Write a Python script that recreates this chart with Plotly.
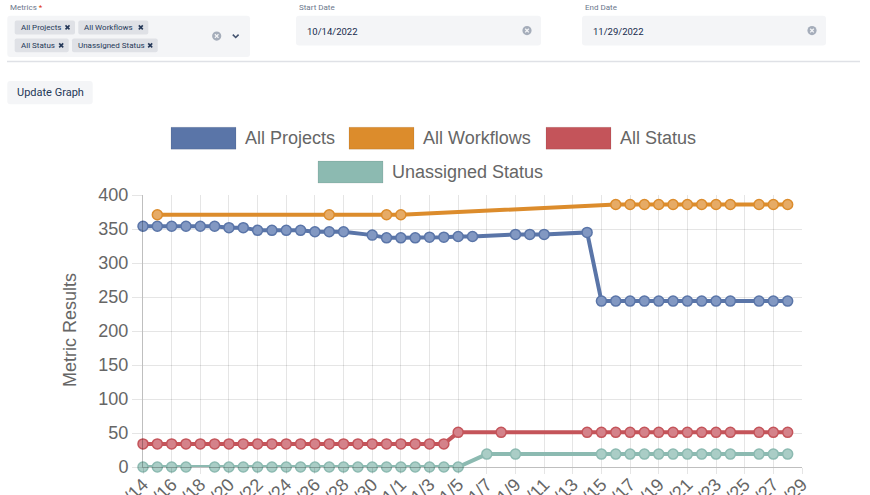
import plotly.graph_objects as go

# ---------------- data ----------------
series_names = ["All Projects", "All Workflows", "All Status", "Unassigned Status"]

projects_dates = ["2022-10-14", "2022-10-15", "2022-10-16", "2022-10-17", "2022-10-18",
                  "2022-10-19", "2022-10-20", "2022-10-21", "2022-10-22", "2022-10-23",
                  "2022-10-24", "2022-10-25", "2022-10-26", "2022-10-27", "2022-10-28",
                  "2022-10-30", "2022-10-31", "2022-11-01", "2022-11-02", "2022-11-03",
                  "2022-11-04", "2022-11-05", "2022-11-06",
                  "2022-11-09", "2022-11-10", "2022-11-11",
                  "2022-11-14", "2022-11-15", "2022-11-16", "2022-11-17", "2022-11-18",
                  "2022-11-19", "2022-11-20", "2022-11-21", "2022-11-22", "2022-11-23",
                  "2022-11-24", "2022-11-26", "2022-11-27", "2022-11-28"]
projects_values = [354, 354, 354, 354, 354, 354, 352, 352, 348, 348,
                   348, 348, 346, 346, 346,
                   341, 337, 337, 337, 338, 338, 339, 339,
                   342, 342, 342,
                   345, 244, 244, 244, 244, 244, 244, 244, 244, 244,
                   244, 244, 244, 244]

workflows_dates = ["2022-10-15", "2022-10-27", "2022-10-31", "2022-11-01",
                   "2022-11-16", "2022-11-17", "2022-11-18", "2022-11-19", "2022-11-20",
                   "2022-11-21", "2022-11-22", "2022-11-23", "2022-11-24",
                   "2022-11-26", "2022-11-27", "2022-11-28"]
workflows_values = [371, 371, 371, 371,
                    386, 386, 386, 386, 386, 386, 386, 386, 386,
                    386, 386, 386]

status_dates = ["2022-10-14", "2022-10-15", "2022-10-16", "2022-10-17", "2022-10-18",
                "2022-10-19", "2022-10-20", "2022-10-21", "2022-10-22", "2022-10-23",
                "2022-10-24", "2022-10-25", "2022-10-26", "2022-10-27", "2022-10-28",
                "2022-10-29", "2022-10-30", "2022-10-31", "2022-11-01", "2022-11-02",
                "2022-11-03", "2022-11-04", "2022-11-05",
                "2022-11-08",
                "2022-11-14", "2022-11-15", "2022-11-16", "2022-11-17", "2022-11-18",
                "2022-11-19", "2022-11-20", "2022-11-21", "2022-11-22", "2022-11-23",
                "2022-11-24", "2022-11-26", "2022-11-27", "2022-11-28"]
status_values = [34, 34, 34, 34, 34, 34, 34, 34, 34, 34,
                 34, 34, 34, 34, 34, 34, 34, 34, 34, 34,
                 34, 34, 51,
                 51,
                 51, 51, 51, 51, 51, 51, 51, 51, 51, 51,
                 51, 51, 51, 51]

unassigned_dates = ["2022-10-14", "2022-10-15", "2022-10-16", "2022-10-17",
                    "2022-10-19", "2022-10-20", "2022-10-21", "2022-10-22", "2022-10-23",
                    "2022-10-24", "2022-10-25", "2022-10-26", "2022-10-27", "2022-10-28",
                    "2022-10-29", "2022-10-30", "2022-10-31", "2022-11-01", "2022-11-02",
                    "2022-11-03", "2022-11-04", "2022-11-05",
                    "2022-11-07", "2022-11-09",
                    "2022-11-15", "2022-11-16", "2022-11-17", "2022-11-18", "2022-11-19",
                    "2022-11-20", "2022-11-21", "2022-11-22", "2022-11-23", "2022-11-24",
                    "2022-11-26", "2022-11-27", "2022-11-28"]
unassigned_values = [0, 0, 0, 0,
                     0, 0, 0, 0, 0, 0, 0, 0, 0, 0, 0, 0, 0, 0, 0, 0, 0, 0,
                     19, 19,
                     19, 19, 19, 19, 19, 19, 19, 19, 19, 19,
                     19, 19, 19]

y_ticks = [0, 50, 100, 150, 200, 250, 300, 350, 400]
x_start, x_end = "2022-10-14", "2022-11-29"

metric_chips = ["All Projects", "All Workflows", "All Status", "Unassigned Status"]
start_date_text = "10/14/2022"
end_date_text = "11/29/2022"

# ---------------- style ----------------
line_colors = ["#5a75a8", "#dc8c2c", "#c4545a", "#8cbab1"]
fill_colors = ["#8298c2", "#e6ab66", "#d4828a", "#aacdc6"]
UI_FONT = "Roboto"
W, H = 870, 495
PL, PR, PT, PB = 143, 802, 194.5, 467.5


def X(x):
    return (x - PL) / (PR - PL)


def Y(y):
    return (PB - y) / (PB - PT)


def rrect(x0, y0, x1, y1, r, fill, line=None):
    p = (f"M {X(x0 + r)},{Y(y0)} L {X(x1 - r)},{Y(y0)} Q {X(x1)},{Y(y0)} {X(x1)},{Y(y0 + r)} "
         f"L {X(x1)},{Y(y1 - r)} Q {X(x1)},{Y(y1)} {X(x1 - r)},{Y(y1)} "
         f"L {X(x0 + r)},{Y(y1)} Q {X(x0)},{Y(y1)} {X(x0)},{Y(y1 - r)} "
         f"L {X(x0)},{Y(y0 + r)} Q {X(x0)},{Y(y0)} {X(x0 + r)},{Y(y0)} Z")
    return dict(type="path", xref="paper", yref="paper", path=p, fillcolor=fill,
                line=dict(width=0 if line is None else 1, color=line or fill), layer="above")


def seg(x0, y0, x1, y1, color, width):
    return dict(type="line", xref="paper", yref="paper", x0=X(x0), y0=Y(y0), x1=X(x1), y1=Y(y1),
                line=dict(color=color, width=width), layer="above")


def text(x, y, s, size, color, family=UI_FONT, anchor="left", angle=0):
    return dict(xref="paper", yref="paper", x=X(x), y=Y(y), text=s, showarrow=False,
                xanchor=anchor, yanchor="middle", textangle=angle,
                font=dict(size=size, color=color, family=family))


fig = go.Figure()
all_dates = [projects_dates, workflows_dates, status_dates, unassigned_dates]
all_vals = [projects_values, workflows_values, status_values, unassigned_values]
for name, d, v, lc, fc in zip(series_names, all_dates, all_vals, line_colors, fill_colors):
    fig.add_trace(go.Scatter(x=d, y=v, name=name, mode="lines+markers",
                             line=dict(color=lc, width=4),
                             marker=dict(size=10, color=fc, line=dict(color=lc, width=1.5)),
                             cliponaxis=False, showlegend=False))

shapes = []
annotations = []

# ---- top form UI ----
annotations.append(text(7.5, 6, "Metrics <span style='color:#de350b'>*</span>", 8, "#6b778c"))
shapes.append(rrect(7.3, 14.7, 250, 56, 3, "#f4f5f7"))
chip_boxes = [(14.7, 19.3, 75, 33.3), (78.3, 19.3, 148.3, 33.3),
              (14.7, 37.3, 68.7, 51.3), (72, 37.3, 157.7, 51.3)]
for label, (a, b, c, d) in zip(metric_chips, chip_boxes):
    shapes.append(rrect(a, b, c, d, 2, "#dfe1e6"))
    annotations.append(text(a + 4, (b + d) / 2, label, 8, "#253858"))
    cx, cy = c - 7.5, (b + d) / 2
    shapes.append(seg(cx - 2, cy - 2, cx + 2, cy + 2, "#253858", 1.6))
    shapes.append(seg(cx - 2, cy + 2, cx + 2, cy - 2, "#253858", 1.6))


def clear_icon(cx, cy):
    r = 4.6
    shapes.append(dict(type="circle", xref="paper", yref="paper", x0=X(cx - r), x1=X(cx + r),
                       y0=Y(cy - r), y1=Y(cy + r), fillcolor="#a5adba", line=dict(width=0),
                       layer="above"))
    shapes.append(seg(cx - 1.8, cy - 1.8, cx + 1.8, cy + 1.8, "#f4f5f7", 1.3))
    shapes.append(seg(cx - 1.8, cy + 1.8, cx + 1.8, cy - 1.8, "#f4f5f7", 1.3))


clear_icon(216.7, 35)
shapes.append(dict(type="path", xref="paper", yref="paper",
                   path=f"M {X(232.8)},{Y(33.6)} L {X(235.7)},{Y(36.4)} L {X(238.6)},{Y(33.6)}",
                   line=dict(color="#42526e", width=1.6), layer="above"))

annotations.append(text(297, 6, "Start Date", 8, "#6b778c"))
shapes.append(rrect(296, 14.5, 541, 44.5, 3, "#f4f5f7"))
annotations.append(text(305, 30, start_date_text, 9.5, "#172b4d"))
clear_icon(527, 29.5)

annotations.append(text(582.5, 6, "End Date", 8, "#6b778c"))
shapes.append(rrect(582, 14.5, 826, 44.5, 3, "#f4f5f7"))
annotations.append(text(590.5, 30, end_date_text, 9.5, "#172b4d"))
clear_icon(812, 29.5)

shapes.append(seg(7, 60.5, 860, 60.5, "#dfe1e6", 1.5))

shapes.append(rrect(7.3, 80, 92.7, 103.3, 3, "#f4f5f7"))
annotations.append(text(50, 92, "Update Graph", 11, "#253858", anchor="center"))

# ---- chart legend ----
legend_items = [(171, 137.5), (349, 137.5), (546, 137.5), (318, 171.5)]
for (bx, by), name, lc in zip(legend_items, series_names, line_colors):
    shapes.append(dict(type="rect", xref="paper", yref="paper", x0=X(bx), x1=X(bx + 65),
                       y0=Y(by - 11), y1=Y(by + 11), fillcolor=lc,
                       line=dict(color="rgba(0,0,0,0.08)", width=1), layer="above"))
    annotations.append(text(bx + 72, by, name, 18, "#666666", family="Liberation Sans"))

annotations.append(text(70, 330, "Metric Results", 18, "#666666", family="Liberation Sans",
                        anchor="center", angle=-90))

fig.update_layout(
    width=W, height=H,
    margin=dict(l=PL, r=W - PR, t=PT, b=H - PB, pad=0, autoexpand=False),
    paper_bgcolor="white", plot_bgcolor="white",
    shapes=shapes, annotations=annotations,
    font=dict(family="Liberation Sans", size=18, color="#666666"),
    xaxis=dict(type="date", range=[x_start, x_end], tick0=x_start, dtick=2 * 86400000,
               tickformat="%-m/%-d", tickangle=-45, showgrid=True, automargin=False,
               gridcolor="rgba(0,0,0,0.1)", gridwidth=1, ticks="outside", ticklen=6,
               ticklabelstandoff=-7,
               tickcolor="rgba(0,0,0,0.1)", showline=True, linecolor="rgba(0,0,0,0.25)",
               linewidth=1, zeroline=False, tickfont=dict(size=18, color="#666666")),
    yaxis=dict(range=[0, 400], tickvals=y_ticks, showgrid=True, automargin=False,
               gridcolor="rgba(0,0,0,0.1)", gridwidth=1, ticks="outside", ticklen=10,
               tickcolor="rgba(0,0,0,0.1)", showline=True, linecolor="rgba(0,0,0,0.25)",
               linewidth=1, zeroline=False, tickfont=dict(size=18, color="#666666")),
    hovermode=False,
)

fig.write_html("out.html")
